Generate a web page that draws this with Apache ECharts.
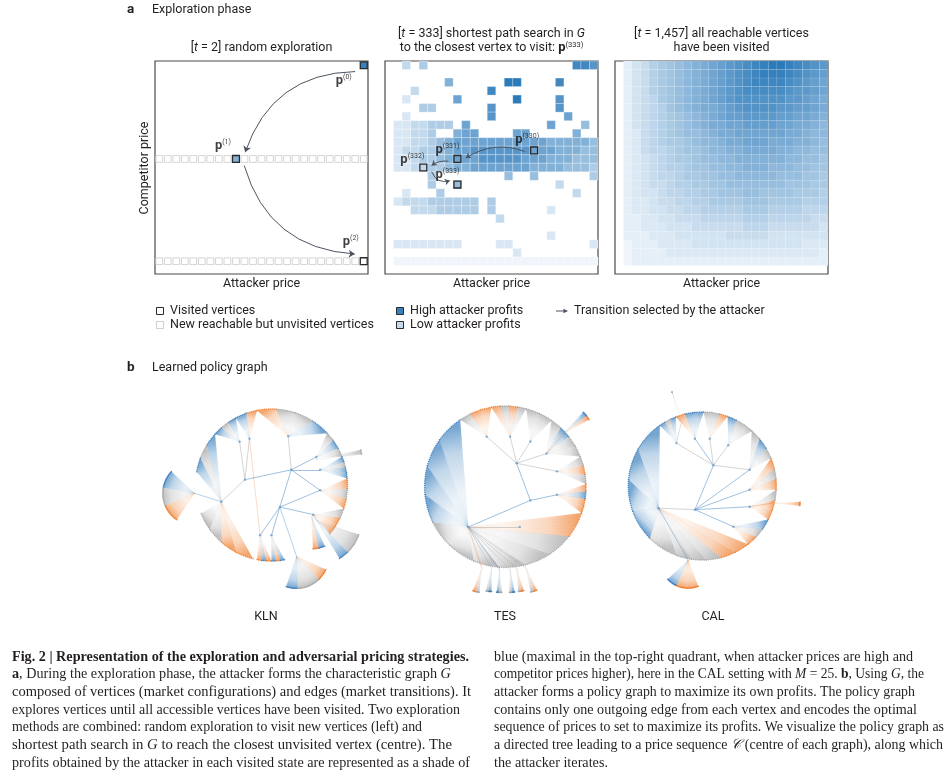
<!DOCTYPE html>
<html>
<head>
<meta charset="utf-8">
<title>Exploration phase and learned policy graph</title>
<script src="https://cdn.jsdelivr.net/npm/echarts@6/dist/echarts.min.js"></script>
<style>
  html, body { margin: 0; padding: 0; background: #fff; }
  #chart { width: 951px; height: 783px; }
</style>
</head>
<body>
<div id="chart"></div>
<script>
const SANS = 'Roboto, "Liberation Sans", sans-serif';
const SERIF = '"Liberation Serif", "DejaVu Serif", serif';
const INK = '#231f20';

// ---------- panel a : exploration grids (25 x 25 price grid) ----------
const GRID_N = 25;
// left: random exploration, rows that became reachable + visited vertices [col, row, profit level 0-9]
const reachableRows = [13, 1];
const randomVisits = [[24, 24, 8.5], [9, 13, 5], [24, 1, -1]];
const randomSteps = ['0', '1', '2'];

// centre: profit level 0-9 per visited cell, top row (24) first, columns 1..24, '.' = not visited
const searchRows = [
  '.2.3.................887',
  '........................',
  '......5......99....8....',
  '..2........8............',
  '.1.....6......9....7....',
  '...33......7.......7....',
  '.1.........7........6...',
  '1122333.6.........6...4.',
  '11223..566....66.....5..',
  '112234566666666666555554.',
  '122334566777777766655544',
  '112334566677777666555444',
  '112233455666666655554443',
  '....3........4..4......3',
  '....3..4...........2....',
  '.1...3...............2..',
  '1222333333.3............',
  '..22233333.3......1.....',
  '............2...........',
  '........................',
  '..................1.....',
  '11111111....11.........1',
  '..............1.........',
  '000000000000000000000000'
];
const searchPath = [[17, 14], [8, 13], [4, 12], [8, 10]];
const searchSteps = ['330', '331', '332', '333'];

// right: all reachable vertices visited, profit on a 0-20 scale (0-9 then a=10 ... k=20)
const fullRows = [
  '1346789abcdefghijkkjihgf',
  '1346789abcdefghijjjihgfe',
  '1346789abcdefghiiiihgfed',
  '1346789abcdefghhhhhgffed',
  '1345789abcdefggggggffedc',
  '1345689abccdefggggffeedc',
  '13456789abcdeeffffeeddcb',
  '13456789abccddeeeeddccba',
  '124567899abccddddddccbaa',
  '124567789aabccdddcccbba9',
  '1245567889aabbccccbbaa99',
  '12345677899aabbbbbbaa998',
  '123456678899aabbbaaa9988',
  '1234556778899aaaaa999887',
  '123445667788999999988877',
  '123345566778889988887776',
  '122344556677778887777666',
  '122334455666667776666555',
  '112233444555556665555544',
  '112223334444445554444443',
  '111222333333444443333333',
  '011122223333333333333222',
  '011112222222222222222221',
  '011111111111111111111111'
];

// ---------- panel b : policy trees (unit circle of leaves) ----------
// nodes [x, y]; edges [from, to, tone]; fans [apexNode, angle0, angle1, tones];
// spikes (leaf fans outside the circle) [parentNode, x, y, angle0, angle1, reach, tones]
const klnNodes = [[0.26, 0.20], [0.11, -0.29], [-0.35, 0.07], [-0.66, -0.22], [0.22, 0.64], [-0.42, 0.57],
  [-0.29, 0.61], [0.64, 0.20], [0.64, -0.07], [0.55, -0.39], [0.0, -0.66], [-0.15, -0.66], [0.59, 0.37]];
const klnEdges = [[0, 4, 'g'], [0, 2, 'b'], [0, 1, 'b'], [0, 7, 'b'], [0, 12, 'b'], [0, 8, 'b'], [2, 5, 'g'],
  [2, 6, 'g'], [2, 3, 'g'], [1, 9, 'b'], [1, 10, 'b'], [1, 11, 'b'], [1, 8, 'b'], [6, 11, 'o']];
const klnFans = [[4, 43, 101, 'bggo'], [12, 22, 43, 'gbg'], [7, 5, 22, 'bbgb'], [8, -18, 5, 'ogo'],
  [9, -40, -18, 'oog'], [10, -90, -80, 'bob'], [11, -101, -90, 'obo'], [3, 202, 256, 'ggoo'],
  [3, 138, 170, 'bgb'], [5, 118, 138, 'bgb'], [6, 101, 118, 'ob']];
const klnSpikes = [[3, -1.01, -0.11, 137, 236, 0.42, 'bgo'], [12, 0.59, 0.33, 7, 13, 0.6, 'g'],
  [9, 0.59, -0.46, -59, -19, 0.59, 'bgg'], [9, 0.53, -0.42, -88, -66, 0.42, 'ob'],
  [1, 0.33, -0.94, -109, -24, 0.42, 'bggo']];

const tesNodes = [[-0.46, -0.50], [0.14, 0.29], [0.31, -0.17], [-0.23, 0.62], [0.06, 0.62], [0.31, 0.56],
  [0.51, 0.41], [0.64, 0.19], [0.64, -0.10], [0.18, -0.50]];
const tesEdges = [[0, 2, 'b'], [2, 1, 'b'], [1, 3, 'g'], [1, 4, 'g'], [1, 5, 'g'], [1, 6, 'g'], [1, 7, 'g'],
  [2, 8, 'b'], [0, 9, 'g']];
const tesFans = [[0, 124, 247, 'bbbbgg'], [0, 247, 341, 'ggggo'], [3, 100, 124, 'oog'], [4, 75, 100, 'gogo'],
  [5, 55, 75, 'gg'], [6, 22, 55, 'ggbg'], [7, 2, 22, 'gog'], [8, -19, 2, 'oobo']];
const tesSpikes = [[6, 0.72, 0.66, 28, 47, 0.36, 'ob'], [0, -0.29, -1.01, -112, -96, 0.30, 'og'],
  [0, -0.17, -1.01, -104, -90, 0.29, 'gb'], [0, -0.07, -1.03, -98, -84, 0.28, 'bg'],
  [0, 0.06, -1.03, -92, -78, 0.28, 'gb'], [0, 0.14, -1.01, -86, -72, 0.29, 'go'],
  [0, 0.26, -1.01, -80, -64, 0.30, 'go']];

const calNodes = [[-0.59, -0.30], [-0.10, -0.32], [0.15, 0.28], [-0.35, 0.58], [-0.10, 0.64], [0.10, 0.64],
  [0.35, 0.55], [0.64, 0.22], [0.64, -0.05], [0.64, -0.28], [0.42, -0.55]];
const calEdges = [[0, 1, 'g'], [1, 2, 'b'], [2, 3, 'g'], [2, 4, 'b'], [2, 5, 'g'], [2, 6, 'g'], [2, 7, 'g'],
  [1, 7, 'b'], [1, 8, 'b'], [1, 9, 'b'], [1, 10, 'b']];
const calFans = [[0, 125, 250, 'bbbbg'], [0, 250, 308, 'gggoo'], [10, -52, -27, 'ogb'], [9, -27, -3, 'oog'],
  [8, -3, 22, 'ogo'], [7, 22, 48, 'gbg'], [6, 48, 70, 'ggb'], [5, 70, 89, 'ogg'], [4, 89, 111, 'bbo'],
  [3, 111, 125, 'bgb']];
const calSpikes = [[0, -0.19, -1.0, 223, 291, 0.38, 'boo'], [9, 0.96, -0.23, -6, 2, 0.36, 'o'],
  [3, -0.28, 0.87, 107.5, 108.5, 0.42, 'g']];

const treeNames = ['KLN', 'TES', 'CAL'];

// ---------- caption ----------
const captionHead = 'Fig. 2 | Representation of the exploration and adversarial pricing strategies.';
const captionLeft = [
  '{b|a}, During the exploration phase, the attacker forms the characteristic graph {i|G}',
  'composed of vertices (market configurations) and edges (market transitions). It',
  'explores vertices until all accessible vertices have been visited. Two exploration',
  'methods are combined: random exploration to visit new vertices (left) and',
  'shortest path search in {i|G} to reach the closest unvisited vertex (centre). The',
  'profits obtained by the attacker in each visited state are represented as a shade of'
];
const captionRight = [
  'blue (maximal in the top-right quadrant, when attacker prices are high and',
  'competitor prices higher), here in the CAL setting with {i|M} = 25. {b|b}, Using {i|G}, the',
  'attacker forms a policy graph to maximize its own profits. The policy graph',
  'contains only one outgoing edge from each vertex and encodes the optimal',
  'sequence of prices to set to maximize its profits. We visualize the policy graph as',
  'a directed tree leading to a price sequence {i|𝒞} (centre of each graph), along which',
  'the attacker iterates.'
];
// where each printed line ends (px), used to condense the serif to the column
const leftEnds = [469, 450, 471, 460, 422, 452, 470];
const rightEnds = [913, 924, 915, 917, 944, 943, 608];

// ---------- helpers ----------
const heatLight = [239, 245, 251], heatDark = [43, 122, 186];
function heat(l) {
  const t = Math.max(0, Math.min(1, l / 9));
  return 'rgb(' + heatLight.map((v, i) => Math.round(v + (heatDark[i] - v) * t)).join(',') + ')';
}
const TONE = { b: [55, 125, 188], o: [238, 125, 45], g: [165, 165, 165] };
function rgba(c, a) { return 'rgba(' + c[0] + ',' + c[1] + ',' + c[2] + ',' + a + ')'; }

function rowsToCells(rows, kind, top) {
  const out = [];
  rows.forEach((s, i) => {
    const row = GRID_N - 1 - i;
    for (let j = 0; j < GRID_N - 1 && j < s.length; j++) {
      const v = parseInt(s[j], 36);
      if (!isNaN(v)) out.push([j + 1, row, v * 9 / top, kind]);
    }
  });
  return out;
}

// kind: 0 heat cell with gaps, 4 heat cell seamless, 1 reachable, 2 visited marker, 3 marker outline only
function cellRender(params, api) {
  const c = api.value(0), r = api.value(1), lvl = api.value(2), kind = api.value(3);
  const tl = api.coord([c, r + 1]);
  const s = api.size([1, 1]);
  if (kind === 0) {
    return { type: 'rect', shape: { x: tl[0], y: tl[1], width: s[0], height: s[1] },
      style: { fill: heat(lvl), stroke: 'rgba(255,255,255,0.5)', lineWidth: 0.5 } };
  }
  if (kind === 4) {
    return { type: 'rect', shape: { x: tl[0], y: tl[1], width: s[0], height: s[1] },
      style: { fill: heat(lvl), stroke: 'rgba(255,255,255,0.14)', lineWidth: 0.5 } };
  }
  if (kind === 1) {
    return { type: 'rect', shape: { x: tl[0] + 0.9, y: tl[1] + 0.9, width: s[0] - 1.8, height: s[1] - 1.8 },
      style: { fill: '#fff', stroke: '#d0d0d0', lineWidth: 0.9 } };
  }
  return { type: 'rect', shape: { x: tl[0] + 0.8, y: tl[1] + 0.8, width: s[0] - 1.6, height: s[1] - 1.6 },
    style: { fill: kind === 3 ? 'none' : (lvl < 0 ? '#fff' : heat(lvl)), stroke: '#2a2a2a', lineWidth: 1.3 } };
}

function stepLines(path, gapA, gapB, bends) {
  return bends.map((bend, k) => {
    const a = [path[k][0] + 0.5, path[k][1] + 0.5], b = [path[k + 1][0] + 0.5, path[k + 1][1] + 0.5];
    const dx = b[0] - a[0], dy = b[1] - a[1], d = Math.hypot(dx, dy);
    return { coords: [[a[0] + dx / d * gapA, a[1] + dy / d * gapA], [b[0] - dx / d * gapB, b[1] - dy / d * gapB]],
      lineStyle: { curveness: bend } };
  });
}

function stepLabels(path, steps, offsets) {
  return path.map((p, k) => ({ value: [p[0] + 0.5, p[1] + 0.5],
    label: { offset: offsets[k], formatter: '{p|p}{s|(' + steps[k] + ')}' } }));
}

const pRich = {
  p: { fontFamily: SANS, fontWeight: 'bold', fontSize: 13, color: '#111', lineHeight: 14 },
  s: { fontFamily: SANS, fontSize: 7, color: '#111', verticalAlign: 'top', lineHeight: 14 }
};

function fanGroup(api, it) {
  const children = [];
  const p0 = api.coord(it.apex);
  const n = it.tones.length, step = (it.a1 - it.a0) / n;
  for (let k = 0; k < n; k++) {
    const col = TONE[it.tones[k]];
    const s0 = it.a0 + k * step;
    const m = Math.max(2, Math.ceil(Math.abs(step) / 1.6));
    const arc = [];
    for (let i = 0; i <= m; i++) {
      const a = (s0 + step * i / m) * Math.PI / 180;
      arc.push(api.coord([it.center[0] + it.r * Math.cos(a), it.center[1] + it.r * Math.sin(a)]));
    }
    const mid = arc[Math.floor(m / 2)];
    children.push({ type: 'polygon', silent: true, shape: { points: [p0].concat(arc) },
      style: { fill: new echarts.graphic.LinearGradient(p0[0], p0[1], mid[0], mid[1], [
        { offset: 0, color: rgba(col, 0) }, { offset: 0.35, color: rgba(col, 0.05) },
        { offset: 0.75, color: rgba(col, 0.3) }, { offset: 1, color: rgba(col, 0.68) }], true) } });
    for (let i = 0; i <= m; i += 2) {
      children.push({ type: 'line', silent: true, shape: { x1: p0[0], y1: p0[1], x2: arc[i][0], y2: arc[i][1] },
        style: { stroke: rgba(col, 0.14), lineWidth: 0.4 } });
    }
    for (let i = 0; i <= m; i++) {
      children.push({ type: 'circle', silent: true, shape: { cx: arc[i][0], cy: arc[i][1], r: 0.75 },
        style: { fill: rgba(col, 0.85) } });
    }
  }
  return { type: 'group', children: children };
}

function treeSeries(idx, nodes, edges, fans, spikes) {
  const items = fans.map(f => ({ apex: nodes[f[0]], center: [0, 0], r: 1, a0: f[1], a1: f[2], tones: f[3] }))
    .concat(spikes.map(s => ({ apex: [s[1], s[2]], center: [s[1], s[2]], r: s[5], a0: s[3], a1: s[4], tones: s[6] })));
  const links = edges.map(e => ({ coords: [nodes[e[0]], nodes[e[1]]],
      lineStyle: { color: rgba(TONE[e[2]], e[2] === 'o' ? 0.35 : 0.6) } }))
    .concat(spikes.map(s => ({ coords: [nodes[s[0]], [s[1], s[2]]], lineStyle: { color: rgba(TONE[s[6][0]], 0.45) } })));
  const ax = 3 + idx;
  return [
    { type: 'custom', xAxisIndex: ax, yAxisIndex: ax, silent: true, clip: false, z: 1,
      data: items.map(it => it.apex), renderItem: (params, api) => fanGroup(api, items[params.dataIndex]) },
    { type: 'lines', coordinateSystem: 'cartesian2d', xAxisIndex: ax, yAxisIndex: ax, silent: true, z: 2,
      lineStyle: { width: 0.8, opacity: 1 }, data: links },
    { type: 'scatter', xAxisIndex: ax, yAxisIndex: ax, silent: true, z: 3, symbolSize: 2.4,
      itemStyle: { color: '#6a9fcc' }, data: nodes }
  ];
}

// ---------- assemble ----------
const randomCells = [];
reachableRows.forEach(r => { for (let c = 0; c < GRID_N; c++) randomCells.push([c, r, -1, 1]); });
randomVisits.forEach(v => randomCells.push([v[0], v[1], v[2], 2]));

const searchCells = rowsToCells(searchRows, 0, 9);
searchPath.forEach((p, k) => {
  const last = k === searchPath.length - 1;
  const hit = searchCells.find(c => c[0] === p[0] && c[1] === p[1]);
  searchCells.push([p[0], p[1], hit ? hit[2] : -1, last ? 2 : 3]);
});
const fullCells = rowsToCells(fullRows, 4, 20);

const panelBoxes = [[155, 61], [385, 61], [615, 61]];
const PANEL = 213;
const treeFrames = [[271.5, 485, 76], [505.3, 486.7, 80.7], [702.3, 486, 74]];
const SPAN = 1.7;

const grids = panelBoxes.map(b => ({ left: b[0], top: b[1], width: PANEL, height: PANEL, show: true,
  borderColor: '#4a4a4a', borderWidth: 1.2, backgroundColor: '#fff', outerBoundsMode: 'none' }))
  .concat(treeFrames.map(f => ({ left: f[0] - SPAN * f[2], top: f[1] - SPAN * f[2], width: 2 * SPAN * f[2],
    height: 2 * SPAN * f[2], show: false, outerBoundsMode: 'none' })));
const xAxes = grids.map((g, i) => ({ gridIndex: i, type: 'value', show: false,
  min: i < 3 ? 0 : -SPAN, max: i < 3 ? GRID_N : SPAN }));
const yAxes = grids.map((g, i) => ({ gridIndex: i, type: 'value', show: false,
  min: i < 3 ? 0 : -SPAN, max: i < 3 ? GRID_N : SPAN }));

const arrowStyle = { color: '#4d5561', width: 1, opacity: 1 };
const series = [
  { type: 'custom', xAxisIndex: 0, yAxisIndex: 0, silent: true, data: randomCells, renderItem: cellRender },
  { type: 'custom', xAxisIndex: 1, yAxisIndex: 1, silent: true, data: searchCells, renderItem: cellRender },
  { type: 'custom', xAxisIndex: 2, yAxisIndex: 2, silent: true, data: fullCells, renderItem: cellRender },
  { type: 'lines', coordinateSystem: 'cartesian2d', xAxisIndex: 0, yAxisIndex: 0, silent: true, z: 4,
    symbol: ['none', 'arrow'], symbolSize: 6, lineStyle: arrowStyle,
    data: stepLines(randomVisits, 1.25, 1.35, [-0.35, -0.35]) },
  { type: 'lines', coordinateSystem: 'cartesian2d', xAxisIndex: 1, yAxisIndex: 1, silent: true, z: 4,
    symbol: ['none', 'arrow'], symbolSize: 5, lineStyle: arrowStyle,
    data: stepLines(searchPath, 1.1, 1.0, [-0.25, -0.2, -0.45]) },
  { type: 'scatter', xAxisIndex: 0, yAxisIndex: 0, silent: true, z: 5, symbolSize: 0,
    label: { show: true, position: 'inside', rich: pRich },
    data: stepLabels(randomVisits, randomSteps, [[-20, 15], [-13, -13], [-13, -19]]) },
  { type: 'scatter', xAxisIndex: 1, yAxisIndex: 1, silent: true, z: 5, symbolSize: 0,
    label: { show: true, position: 'inside', rich: pRich },
    data: stepLabels(searchPath, searchSteps, [[-7, -11], [-10, -9], [-11, -8], [-10, -10]]) }
].concat(treeSeries(0, klnNodes, klnEdges, klnFans, klnSpikes),
  treeSeries(1, tesNodes, tesEdges, tesFans, tesSpikes),
  treeSeries(2, calNodes, calEdges, calFans, calSpikes));

// ---------- text ----------
function txt(x, y, text, extra, more) {
  return Object.assign({ type: 'text', x: x, y: y, silent: true,
    style: Object.assign({ text: text, fontFamily: SANS, fontSize: 12.5, fill: INK, align: 'left',
      verticalAlign: 'middle' }, extra || {}) }, more || {});
}
const titleRich = {
  i: { fontFamily: SANS, fontSize: 12.5, fontStyle: 'italic', fill: INK },
  p: { fontFamily: SANS, fontSize: 13, fontWeight: 'bold', fill: INK },
  s: { fontFamily: SANS, fontSize: 7.5, fill: INK, verticalAlign: 'top' }
};
const centres = panelBoxes.map(b => b[0] + PANEL / 2);
const texts = [
  txt(127, 10, 'a', { fontWeight: 'bold', fontSize: 13.5 }),
  txt(152, 10, 'Exploration phase'),
  txt(centres[0], 48, '[{i|t} = 2] random exploration', { align: 'center', rich: titleRich }),
  txt(centres[1], 34, '[{i|t} = 333] shortest path search in {i|G}', { align: 'center', rich: titleRich }),
  txt(centres[1], 48, 'to the closest vertex to visit: {p|p}{s|(333)}', { align: 'center', rich: titleRich }),
  txt(centres[2], 34, '[{i|t} = 1,457] all reachable vertices', { align: 'center', rich: titleRich }),
  txt(centres[2], 48, 'have been visited', { align: 'center' }),
  txt(145, 168, 'Competitor price', { align: 'center' }, { rotation: Math.PI / 2 }),
  txt(127, 368, 'b', { fontWeight: 'bold', fontSize: 13.5 }),
  txt(152, 368, 'Learned policy graph')
];
centres.forEach(cx => texts.push(txt(cx, 284, 'Attacker price', { align: 'center' })));
treeFrames.forEach((f, i) => texts.push(txt([266, 505, 713][i], 617, treeNames[i], { align: 'center' })));

// legend
const legendItems = [
  [156.5, 311, '#fff', '#2a2a2a', 'Visited vertices'],
  [156.5, 325, '#fff', '#cfcfcf', 'New reachable but unvisited vertices'],
  [396.5, 311, heat(8.5), '#2a2a2a', 'High attacker profits'],
  [396.5, 325, heat(2), '#2a2a2a', 'Low attacker profits']
];
legendItems.forEach(l => {
  texts.push({ type: 'rect', silent: true, shape: { x: l[0], y: l[1] - 3.5, width: 7, height: 7 },
    style: { fill: l[2], stroke: l[3], lineWidth: 1 } });
  texts.push(txt(l[0] + 13.5, l[1], l[4]));
});
texts.push({ type: 'line', silent: true, shape: { x1: 556, y1: 311, x2: 565, y2: 311 },
  style: { stroke: '#4d5561', lineWidth: 1 } });
texts.push({ type: 'polygon', silent: true, shape: { points: [[568, 311], [563.5, 308.8], [563.5, 313.2]] },
  style: { fill: '#4d5561' } });
texts.push(txt(574, 311, 'Transition selected by the attacker'));

// caption, each line condensed to its printed length
const meas = document.createElement('canvas').getContext('2d');
const CAP_SIZE = 14.5;
function plain(s) { return s.replace(/\{\w+\|([^}]*)\}/g, '$1'); }
function fitScale(s, bold, width) {
  meas.font = (bold ? 'bold ' : '') + CAP_SIZE + 'px "Liberation Serif"';
  return width / meas.measureText(plain(s)).width;
}
const capRich = {
  i: { fontFamily: SERIF, fontSize: CAP_SIZE, fontStyle: 'italic', fill: INK },
  b: { fontFamily: SERIF, fontSize: CAP_SIZE, fontWeight: 'bold', fill: INK }
};
function capLine(x, row, text, bold, end) {
  return txt(x, 657 + row * 17.65, text, { fontFamily: SERIF, fontSize: CAP_SIZE,
    fontWeight: bold ? 'bold' : 'normal', rich: capRich }, { scaleX: fitScale(text, bold, end - x) });
}
texts.push(capLine(12, 0, captionHead, true, leftEnds[0]));
captionLeft.forEach((s, i) => texts.push(capLine(12, i + 1, s, false, leftEnds[i + 1])));
captionRight.forEach((s, i) => texts.push(capLine(494, i, s, false, rightEnds[i])));

const chart = echarts.init(document.getElementById('chart'), null, { renderer: 'canvas' });
chart.setOption({
  animation: false,
  backgroundColor: '#fff',
  grid: grids,
  xAxis: xAxes,
  yAxis: yAxes,
  series: series,
  graphic: { elements: texts }
});
</script>
</body>
</html>
